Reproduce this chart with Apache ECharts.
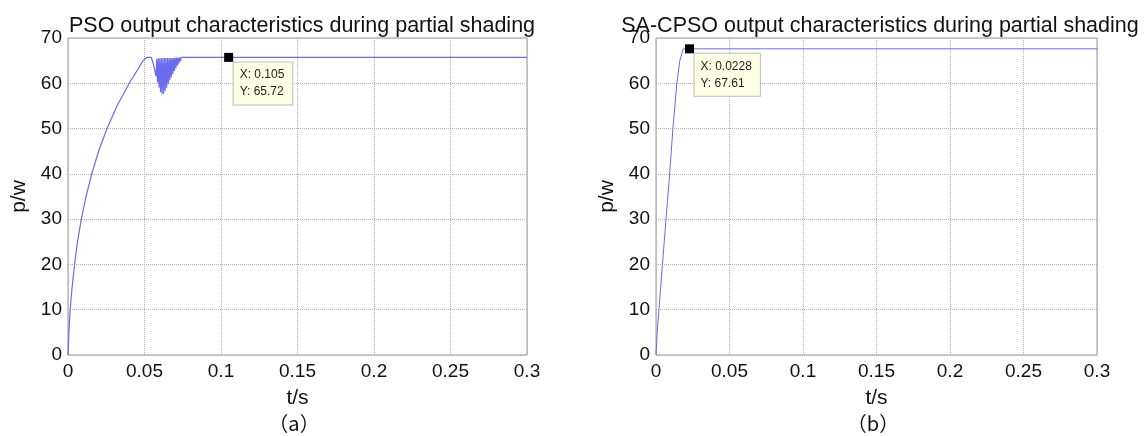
<!DOCTYPE html>
<html>
<head>
<meta charset="utf-8">
<script src="https://cdn.jsdelivr.net/npm/echarts@6/dist/echarts.min.js"></script>
<style>
  html, body { margin: 0; padding: 0; background: #fff; }
  #chart { width: 1145px; height: 436px; }
</style>
</head>
<body>
<div id="chart"></div>
<script>
// PSO 输出 (t/s, p/w)，0.057~0.075 为振荡段
const psoTime = [0, 0.0006, 0.0014, 0.0027, 0.0043, 0.0062, 0.0087, 0.0118, 0.0155, 0.02, 0.0255, 0.032, 0.04, 0.0455, 0.049, 0.0515,
  0.0545, 0.0558, 0.0568, 0.0575, 0.058, 0.0585, 0.059, 0.0595, 0.06, 0.0605, 0.061, 0.0615, 0.062, 0.0625,
  0.063, 0.0635, 0.064, 0.0645, 0.065, 0.0655, 0.066, 0.0665, 0.067, 0.0675, 0.068, 0.0685, 0.069, 0.0695,
  0.07, 0.0705, 0.071, 0.0715, 0.072, 0.0725, 0.073, 0.0735, 0.074, 0.0745, 0.0755, 0.3]
const psoPower = [0, 5, 10, 15, 20, 25, 30, 35, 40, 45, 50, 55, 60, 63, 65, 65.7,
  65.7, 64.2, 62.8, 61.5, 65.4, 60.2, 65.5, 59.0, 65.5, 58.0, 65.5, 57.6, 65.6, 57.7,
  65.6, 58.3, 65.6, 59.0, 65.6, 59.8, 65.6, 60.6, 65.6, 61.3, 65.6, 62.0, 65.6, 62.7,
  65.7, 63.3, 65.7, 63.9, 65.7, 64.4, 65.7, 64.9, 65.7, 65.3, 65.72, 65.72]
// SA-CPSO 输出
const sacpsoTime = [0, 0.0008, 0.002, 0.0044, 0.0068, 0.0093, 0.0115, 0.0142, 0.0162, 0.0185, 0.3]
const sacpsoPower = [0, 5, 10, 20, 30, 40, 50, 60, 65, 67.61, 67.61]
// 数据提示点
const psoTip = [0.105, 65.72]
const sacpsoTip = [0.0228, 67.61]

const titles = ['PSO output characteristics during partial shading', 'SA-CPSO output characteristics during partial shading']
const captions = ['（a）', '（b）']

const font = 'Liberation Sans, Arial, sans-serif'
const cjkFont = 'Noto Sans CJK SC, sans-serif'
const lineColor = '#6b6bf0'

function pairs(xs, ys) {
  return xs.map((x, i) => [x, ys[i]])
}

function xAxis(idx) {
  return {
    type: 'value', gridIndex: idx, min: 0, max: 0.3, interval: 0.05,
    name: 't/s', nameLocation: 'middle', nameGap: 33,
    nameTextStyle: { fontSize: 21, color: '#111', fontFamily: font },
    axisLine: { show: false },
    axisTick: { show: false },
    axisLabel: { fontSize: 19, color: '#111', fontFamily: font, margin: 7,
      formatter: v => String(+v.toFixed(2)) },
    splitLine: { lineStyle: { type: 'dotted', color: '#b0b0b0' } }
  }
}

function yAxis(idx) {
  return {
    type: 'value', gridIndex: idx, min: 0, max: 70, interval: 10,
    name: 'p/w', nameLocation: 'middle', nameGap: 38, nameRotate: 90,
    nameTextStyle: { fontSize: 21, color: '#111', fontFamily: font },
    axisLine: { show: false },
    axisTick: { show: false },
    axisLabel: { fontSize: 19, color: '#111', fontFamily: font, margin: 6 },
    splitLine: { lineStyle: { type: 'dotted', color: '#b0b0b0' } }
  }
}

function tip(point) {
  return {
    symbol: 'rect', symbolSize: 9,
    itemStyle: { color: '#000' },
    label: {
      show: true, position: [9.5, 9.5], align: 'left', verticalAlign: 'top',
      formatter: 'X: ' + point[0] + '\nY: ' + point[1],
      fontSize: 12, lineHeight: 17, color: '#222', fontFamily: font,
      backgroundColor: '#ffffe6', borderColor: '#bbb', borderWidth: 1,
      padding: [4, 8, 4, 6]
    },
    data: [{ coord: point }]
  }
}

const chart = echarts.init(document.getElementById('chart'))
chart.setOption({
  animation: false,
  backgroundColor: '#fff',
  title: [
    { text: titles[0], left: 297, top: 10, textAlign: 'center',
      textStyle: { fontSize: 21.5, fontWeight: 'normal', color: '#111', fontFamily: font } },
    { text: titles[1], left: 875, top: 10, textAlign: 'center',
      textStyle: { fontSize: 21.5, fontWeight: 'normal', color: '#111', fontFamily: font } },
    { text: captions[0], left: 289, top: 408, textAlign: 'center',
      textStyle: { fontSize: 20, fontWeight: 'normal', color: '#111', fontFamily: cjkFont } },
    { text: captions[1], left: 868, top: 408, textAlign: 'center',
      textStyle: { fontSize: 20, fontWeight: 'normal', color: '#111', fontFamily: cjkFont } }
  ],
  grid: [
    { left: 68, right: 618, top: 38, bottom: 81, show: true, borderColor: '#999', borderWidth: 1 },
    { left: 656, right: 48, top: 38, bottom: 81, show: true, borderColor: '#999', borderWidth: 1 }
  ],
  xAxis: [xAxis(0), xAxis(1)],
  yAxis: [yAxis(0), yAxis(1)],
  series: [
    {
      type: 'line', xAxisIndex: 0, yAxisIndex: 0,
      data: pairs(psoTime, psoPower),
      showSymbol: false,
      lineStyle: { color: lineColor, width: 1.2 },
      markPoint: tip(psoTip)
    },
    {
      type: 'line', xAxisIndex: 1, yAxisIndex: 1,
      data: pairs(sacpsoTime, sacpsoPower),
      showSymbol: false,
      lineStyle: { color: lineColor, width: 1 },
      markPoint: tip(sacpsoTip)
    }
  ]
})
</script>
</body>
</html>
